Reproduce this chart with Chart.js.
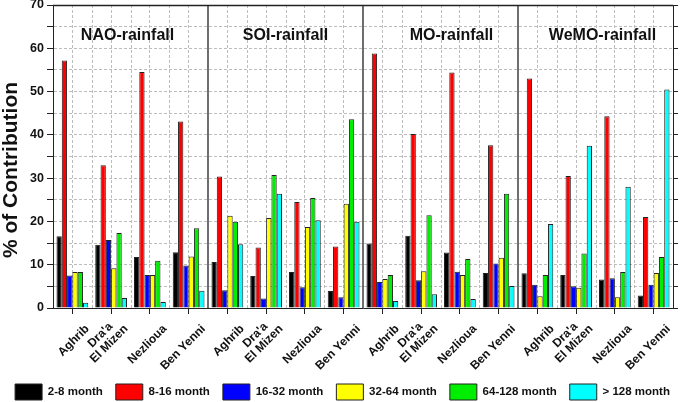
<!DOCTYPE html>
<html>
<head>
<meta charset="utf-8">
<script src="https://cdn.jsdelivr.net/npm/chart.js@4.4.1/dist/chart.umd.min.js"></script>
<style>
  body { margin: 0; background: #fff; }
  #wrap { width: 685px; height: 402px; }
</style>
</head>
<body>
<div id="wrap"><canvas id="chart"></canvas></div>
<script>
// --- DATA ---
const stations = [['Aghrib'], ["Dra'a", 'El Mizen'], ['Nezlioua'], ['Ben Yenni']];
const groupTitles = ['NAO-rainfall', 'SOI-rainfall', 'MO-rainfall', 'WeMO-rainfall'];
const bandNames = ['2-8 month', '8-16 month', '16-32 month', '32-64 month', '64-128 month', '> 128 month'];

// % of contribution, 4 stations per group, groups in the order of groupTitles
const band2to8    = [16.6, 14.6, 11.8, 12.9, 10.6, 7.4, 8.3, 3.9, 14.9, 16.7, 12.8, 8.1, 8.0, 7.6, 6.6, 2.9];
const band8to16   = [57.2, 33.0, 54.5, 43.1, 30.4, 14.0, 24.5, 14.2, 58.8, 40.2, 54.4, 37.6, 53.0, 30.5, 44.3, 21.0];
const band16to32  = [7.5, 15.7, 7.6, 9.8, 4.1, 2.2, 4.8, 2.5, 6.0, 6.4, 8.4, 10.3, 5.4, 5.0, 6.9, 5.4];
const band32to64  = [8.3, 9.2, 7.6, 11.9, 21.3, 20.8, 18.7, 24.1, 6.7, 8.5, 7.6, 11.6, 2.7, 4.7, 2.5, 8.1];
const band64to128 = [8.3, 17.3, 10.9, 18.4, 19.9, 30.7, 25.4, 43.6, 7.6, 21.4, 11.3, 26.4, 7.6, 12.6, 8.3, 11.8];
const band128up   = [1.2, 2.3, 1.4, 4.0, 14.7, 26.4, 20.3, 19.9, 1.6, 3.2, 2.1, 5.1, 19.4, 37.5, 28.0, 50.5];

const yMin = 0, yMax = 70, yStep = 5, yLabelStep = 10;
const yTitle = '% of Contribution';

const categories = groupTitles.flatMap(() => stations);
const bandValues = [band2to8, band8to16, band16to32, band32to64, band64to128, band128up];
const bandColors = ['#000000', '#ff0000', '#0000ff', '#ffff00', '#00ee00', '#00ffff'];

const FONT = '"Liberation Sans", Arial, sans-serif';

// extra drawing: group separators, half-category grid, titles, rotated station labels
const framePlugin = {
    id: 'frame',
    beforeDatasetsDraw(chart) {
        const { ctx, chartArea: a, scales: { x } } = chart;
        ctx.save();
        ctx.strokeStyle = '#bdbdbd';
        ctx.lineWidth = 1;
        ctx.setLineDash([3, 2]);
        for (let i = 0; i < categories.length - 1; i++) {
            if ((i + 1) % stations.length === 0) continue;
            const px = Math.round((x.getPixelForTick(i) + x.getPixelForTick(i + 1)) / 2) + 0.5;
            ctx.beginPath();
            ctx.moveTo(px, a.top);
            ctx.lineTo(px, a.bottom);
            ctx.stroke();
        }
        ctx.restore();
    },
    afterDraw(chart) {
        const { ctx, chartArea: a, scales: { x } } = chart;
        ctx.save();

        // box top + group separators
        ctx.strokeStyle = '#222';
        ctx.lineWidth = 1.3;
        ctx.beginPath();
        ctx.moveTo(a.left, a.top + 0.5);
        ctx.lineTo(a.right, a.top + 0.5);
        for (let g = 1; g < groupTitles.length; g++) {
            const i = g * stations.length - 1;
            const px = (x.getPixelForTick(i) + x.getPixelForTick(i + 1)) / 2;
            ctx.moveTo(px, a.top);
            ctx.lineTo(px, a.bottom);
        }
        ctx.stroke();

        // group titles
        const titleShift = [-3, 0, 11, 7];
        ctx.fillStyle = '#111';
        ctx.font = 'bold 16px ' + FONT;
        ctx.textAlign = 'center';
        ctx.textBaseline = 'middle';
        groupTitles.forEach((t, g) => {
            const first = g * stations.length;
            const last = first + stations.length - 1;
            const cx = (x.getPixelForTick(first) + x.getPixelForTick(last)) / 2;
            ctx.fillText(t, cx + titleShift[g], a.top + 31);
        });

        // rotated station labels
        ctx.font = 'bold 12px ' + FONT;
        const lh = 12.5;
        categories.forEach((lines, i) => {
            const px = x.getPixelForTick(i);
            const maxW = Math.max(...lines.map(l => ctx.measureText(l).width));
            ctx.save();
            ctx.translate(px + 15, a.bottom + 19);
            ctx.rotate(-Math.PI / 4);
            lines.forEach((l, k) => {
                ctx.fillText(l, -maxW / 2, -(lines.length - 1 - k) * lh);
            });
            ctx.restore();
        });

        // y title
        ctx.font = 'bold 21px ' + FONT;
        ctx.save();
        ctx.translate(11, 170);
        ctx.rotate(-Math.PI / 2);
        ctx.fillText(yTitle, 0, 0);
        ctx.restore();

        ctx.restore();
    }
};

function initChart() {
    const ctx = document.getElementById('chart').getContext('2d');

    const datasets = bandNames.map((name, k) => ({
        label: name,
        data: bandValues[k],
        backgroundColor: bandColors[k],
        borderColor: '#222',
        borderWidth: 1,
        categoryPercentage: 0.82,
        barPercentage: 1.0
    }));

    new Chart(ctx, {
        type: 'bar',
        data: { labels: categories, datasets: datasets },
        plugins: [framePlugin],
        options: {
            responsive: true,
            maintainAspectRatio: false,
            animation: false,
            layout: { padding: { top: 5, left: 0, right: 0, bottom: -8 } },
            plugins: {
                tooltip: { enabled: false },
                legend: {
                    position: 'bottom',
                    labels: {
                        boxWidth: 27,
                        boxHeight: 16,
                        padding: 13,
                        color: '#111',
                        font: { family: FONT, size: 11.5, weight: 'bold' }
                    }
                }
            },
            scales: {
                x: {
                    offset: true,
                    afterFit: s => { s.height = 63; },
                    ticks: { display: false },
                    grid: { offset: false, color: '#bdbdbd', tickColor: '#222', tickLength: 6 },
                    border: { color: '#222', width: 1, dash: [3, 2] }
                },
                y: {
                    min: yMin,
                    max: yMax,
                    afterFit: s => { s.width = 53; s.paddingTop = 0; s.paddingBottom = 0; },
                    ticks: {
                        stepSize: yStep,
                        padding: 3,
                        color: '#111',
                        font: { family: FONT, size: 12.5, weight: 'bold' },
                        callback: v => (v % yLabelStep === 0 ? v : '')
                    },
                    grid: { color: '#bdbdbd', tickColor: '#222', tickLength: 6 },
                    border: { color: '#222', width: 1, dash: [3, 2] }
                },
                y2: {
                    position: 'right',
                    min: yMin,
                    max: yMax,
                    afterFit: s => { s.width = 12; s.paddingTop = 0; s.paddingBottom = 0; },
                    ticks: { display: false, stepSize: yStep },
                    grid: { drawOnChartArea: false, tickColor: '#222', tickLength: 5 },
                    border: { color: '#222', width: 1 }
                }
            }
        }
    });
}

document.addEventListener('DOMContentLoaded', initChart);
</script>
</body>
</html>
